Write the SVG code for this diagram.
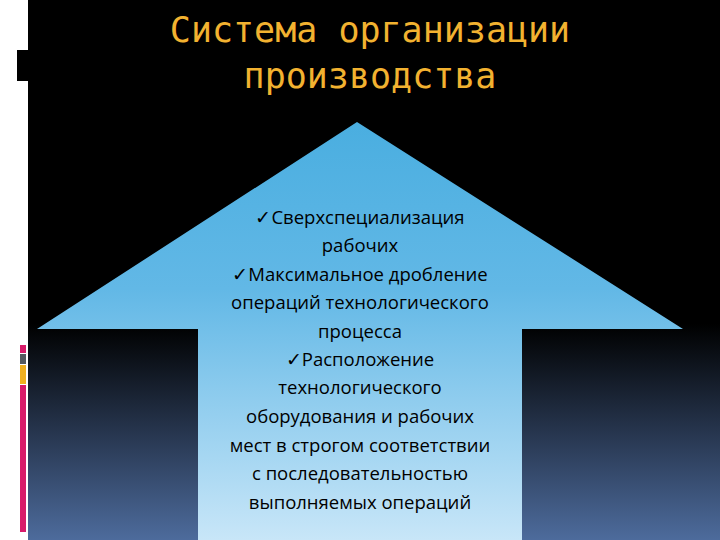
<svg xmlns="http://www.w3.org/2000/svg" width="720" height="540" viewBox="0 0 720 540">
<defs>
<linearGradient id="bg" x1="0" y1="0" x2="0" y2="1">
<stop offset="0" stop-color="#000"/><stop offset="0.6" stop-color="#000"/><stop offset="1" stop-color="#4d6b9c"/>
</linearGradient>
<linearGradient id="ar" x1="0" y1="0" x2="0" y2="1">
<stop offset="0" stop-color="#4aaee0"/><stop offset="0.4" stop-color="#62b8e6"/><stop offset="1" stop-color="#c8e6f8"/>
</linearGradient>
<style>
.t{font-family:"Open Sans","Liberation Sans",sans-serif;font-size:18.5px;fill:#000;text-anchor:middle}
.h{font-family:"DejaVu Sans Mono","Liberation Mono",monospace;font-size:35px;fill:#f2b230;text-anchor:middle}
</style>
</defs>
<rect width="720" height="540" fill="url(#bg)"/>
<rect x="0" y="0" width="28" height="540" fill="#fff"/>
<rect x="17" y="50" width="11" height="31" fill="#000"/>
<rect x="20" y="345" width="6" height="8" fill="#d81b6a"/>
<rect x="20" y="354" width="6" height="10" fill="#555a60"/>
<rect x="20" y="365" width="6" height="19" fill="#f0b020"/>
<rect x="20" y="385" width="6" height="147" fill="#d81b6a"/>
<g id="title">
<text class="h" x="370" y="42">Система организации</text>
<text class="h" x="370" y="88">производства</text>
</g>
<g id="arrow">
<polygon points="357,122 683,329 522,329 522,540 198,540 198,329 37,329" fill="url(#ar)"/>
<text class="t" x="360" y="224">✓Сверхспециализация</text>
<text class="t" x="360" y="252">рабочих</text>
<text class="t" x="360" y="281">✓Максимальное дробление</text>
<text class="t" x="360" y="309">операций технологического</text>
<text class="t" x="360" y="338">процесса</text>
<text class="t" x="360" y="366">✓Расположение</text>
<text class="t" x="360" y="394">технологического</text>
<text class="t" x="360" y="423">оборудования и рабочих</text>
<text class="t" x="360" y="452">мест в строгом соответствии</text>
<text class="t" x="360" y="480">с последовательностью</text>
<text class="t" x="360" y="509">выполняемых операций</text>
</g>
</svg>
